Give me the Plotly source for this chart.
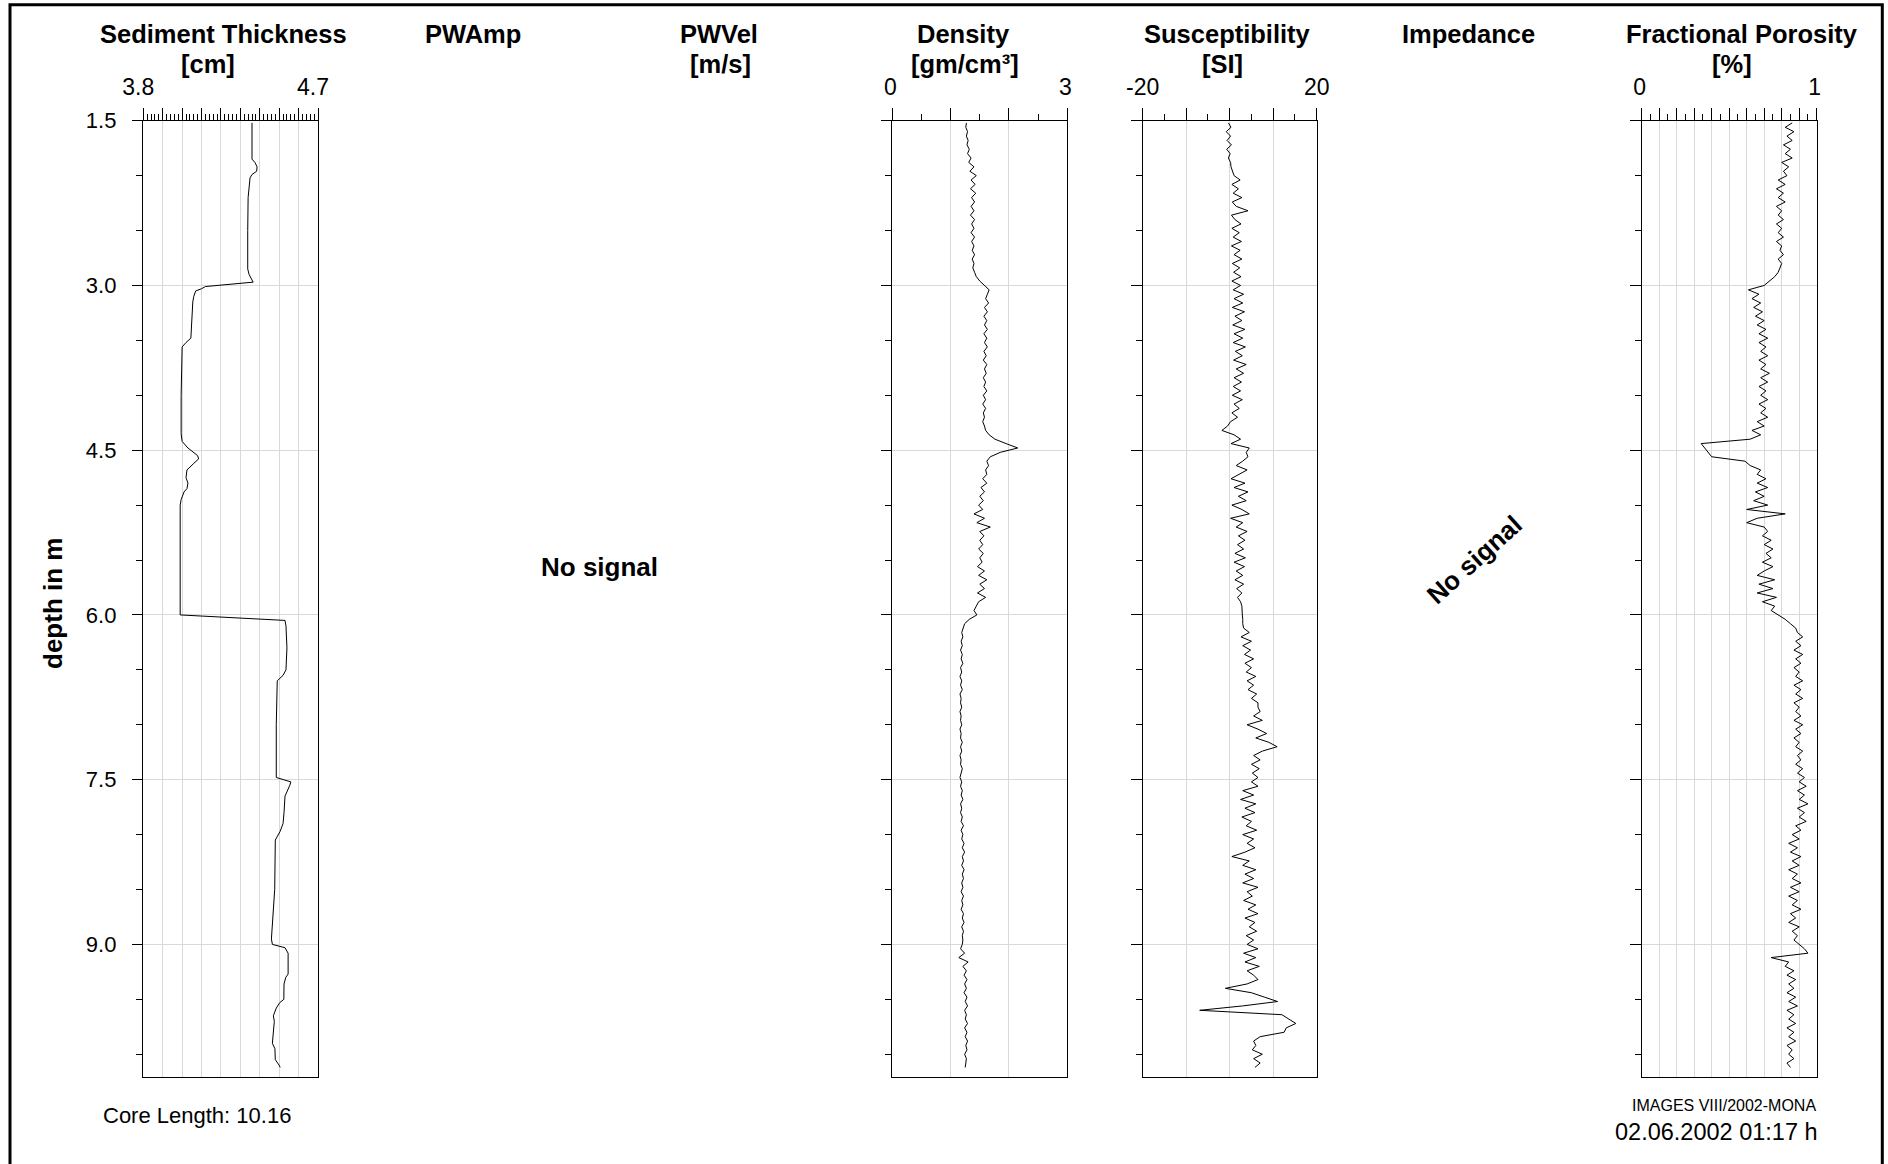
import numpy as np
import plotly.graph_objects as go

W, H = 1888, 1164
FONT = "Liberation Sans, Arial, sans-serif"

# ---------------- data ----------------
# Sediment thickness [cm] vs depth [m] (piecewise read from the log)
sed_depth = [1.52, 1.85, 1.88, 1.92, 1.96, 1.99, 2.02, 2.20, 2.50, 2.85, 2.90, 2.97,
             3.01, 3.03, 3.05, 3.10, 3.15, 3.30, 3.48, 3.52, 3.56, 4.00, 4.35, 4.42,
             4.48, 4.55, 4.58, 4.62, 4.68, 4.75, 4.80, 4.85, 4.88, 4.95, 5.00, 6.00,
             6.05, 6.10, 6.30, 6.50, 6.55, 6.60, 7.00, 7.48, 7.52, 7.55, 7.65, 7.80,
             7.90, 7.97, 8.05, 8.50, 8.85, 8.95, 9.00, 9.03, 9.08, 9.27, 9.30, 9.36,
             9.50, 9.53, 9.58, 9.65, 9.70, 9.80, 9.90, 9.95, 10.05, 10.10, 10.12]
sed_val = [4.360, 4.360, 4.375, 4.386, 4.384, 4.360, 4.350, 4.340, 4.338, 4.338, 4.345, 4.366,
           4.120, 4.100, 4.070, 4.060, 4.055, 4.050, 4.045, 4.020, 4.000, 3.995, 3.995, 4.000,
           4.030, 4.080, 4.085, 4.060, 4.025, 4.020, 4.030, 4.025, 4.010, 3.995, 3.990, 3.990,
           4.530, 4.535, 4.540, 4.535, 4.520, 4.490, 4.485, 4.485, 4.560, 4.555, 4.530, 4.525,
           4.520, 4.505, 4.480, 4.477, 4.465, 4.460, 4.465, 4.530, 4.546, 4.546, 4.534, 4.525,
           4.524, 4.503, 4.485, 4.470, 4.475, 4.470, 4.465, 4.478, 4.480, 4.500, 4.505]

# Regularly sampled logs: first sample depth and sampling step [m]
start_depth = 1.52
step_depth = 0.04

# Density [gm/cm3]
density = [
    1.27, 1.26, 1.29, 1.27, 1.30, 1.28, 1.32, 1.29, 1.35, 1.31,
    1.40, 1.33, 1.44, 1.35, 1.42, 1.34, 1.43, 1.36, 1.41, 1.35,
    1.40, 1.34, 1.41, 1.36, 1.40, 1.35, 1.41, 1.36, 1.40, 1.37,
    1.41, 1.37, 1.40, 1.38, 1.41, 1.44, 1.50,
    1.58, 1.66, 1.63, 1.60, 1.65, 1.58, 1.63, 1.57, 1.62, 1.58,
    1.63, 1.57, 1.62, 1.58, 1.63, 1.57, 1.61, 1.56, 1.62, 1.58,
    1.61, 1.56, 1.60, 1.57, 1.62, 1.56, 1.60, 1.55, 1.60, 1.56,
    1.58, 1.55, 1.58, 1.60, 1.66, 1.76, 1.95, 2.15, 1.85, 1.68,
    1.62, 1.65, 1.60, 1.62, 1.55, 1.62, 1.52, 1.58, 1.50, 1.56,
    1.48, 1.55, 1.40, 1.58, 1.45, 1.68, 1.50, 1.57, 1.50, 1.55,
    1.48, 1.56, 1.50, 1.54, 1.46, 1.58, 1.48, 1.62, 1.50, 1.58,
    1.46, 1.60, 1.48, 1.44, 1.40, 1.45, 1.32, 1.24, 1.21,
    1.19, 1.21, 1.18, 1.20, 1.17, 1.20, 1.18, 1.21, 1.17, 1.19,
    1.16, 1.19, 1.17, 1.20, 1.16, 1.18, 1.17, 1.19, 1.16, 1.18,
    1.17, 1.19, 1.16, 1.18, 1.17, 1.20, 1.17, 1.19, 1.16, 1.18,
    1.17, 1.20, 1.18, 1.16, 1.19, 1.17, 1.20, 1.18, 1.21, 1.17,
    1.19, 1.17, 1.20, 1.18, 1.22, 1.18, 1.21, 1.19, 1.23, 1.20,
    1.24, 1.20, 1.22, 1.19, 1.23, 1.20, 1.22, 1.19, 1.21, 1.18,
    1.22, 1.19, 1.21, 1.18, 1.22, 1.20, 1.23, 1.19, 1.22, 1.20,
    1.21,
    1.20, 1.17, 1.24, 1.14, 1.30, 1.21, 1.27, 1.23, 1.28, 1.24,
    1.27, 1.23, 1.28, 1.25, 1.29, 1.24, 1.27, 1.25, 1.29, 1.24,
    1.28, 1.25, 1.29, 1.26, 1.28, 1.24, 1.27, 1.26, 1.25]

# Susceptibility [SI]
susceptibility = [
    -0.3, 0.3, -0.8, 0.2, -0.6, 0.4, -0.7, 0.1, -0.3, 0.2,
    0.3, 0.6, 1.0, 2.4, 0.5, 2.0, 0.8, 2.8, 0.6, 1.5,
    4.2, 0.4, 1.2, 2.6, 0.5, 2.2, 0.8, 2.7, 0.4, 2.4,
    1.0, 2.8, 0.6, 2.3, 0.9, 2.6, 0.5,
    2.5, 0.8, 3.2, 1.0, 3.0, 0.6, 3.4, 1.2, 2.8, 0.7,
    3.5, 1.0, 3.0, 0.8, 3.6, 1.3, 2.9, 0.9, 3.8, 1.5,
    3.2, 1.0, 2.7, 0.8, 2.5, 0.6, 2.9, 1.0, 2.2, 0.5,
    1.8, 0.2, -0.5, -1.8, 1.0, 2.5, 0.3, 4.5, 3.8, 4.2,
    3.0, 1.5, 4.0, 2.0, 0.3, 3.5, 1.0, 4.2, 2.0, 3.8,
    0.5, 2.8, 4.5, 0.2, 3.0, 1.5, 4.0, 2.0, 3.5, 1.8,
    3.2, 1.2, 3.6, 1.0, 3.4, 1.5, 3.0, 1.2, 3.2, 1.6,
    2.8, 1.8, 2.5, 2.8, 2.8, 2.9, 3.0, 3.0, 3.2,
    4.5, 2.6, 5.0, 3.0, 4.8, 3.4, 5.5, 3.5, 5.0, 3.8,
    6.0, 4.0, 5.5, 4.2, 6.2, 5.0, 6.5, 6.5, 7.0, 5.5,
    7.5, 4.0, 6.5, 8.5, 6.0, 9.0, 10.9, 7.5, 5.5, 7.0,
    5.0, 6.8, 5.2, 6.5, 5.0, 6.5, 3.0, 5.5, 2.5, 6.0,
    3.5, 5.8, 2.8, 5.0, 3.8, 6.2, 3.0, 5.5, 4.0, 5.8,
    3.5, 0.5, 4.5, 3.0, 6.0, 3.5, 5.5, 3.0, 6.5, 4.0,
    5.2, 3.2, 6.0, 4.2, 6.5, 3.5, 5.8, 4.5, 6.2, 3.8,
    5.5,
    4.0, 6.5, 3.2, 6.0, 3.5, 6.8, 4.0, 5.5, 6.5, 4.0,
    -1.0, 5.0, 8.0, 11.0, 3.0, -6.9, 12.0, 13.5, 15.2, 13.0,
    12.5, 7.0, 5.5, 6.0, 5.2, 7.5, 5.5, 7.0, 5.8]

# Fractional porosity
porosity = [
    0.86, 0.82, 0.87, 0.83, 0.86, 0.81, 0.85, 0.82, 0.86, 0.80,
    0.84, 0.81, 0.83, 0.78, 0.82, 0.77, 0.81, 0.78, 0.82, 0.77,
    0.80, 0.78, 0.81, 0.77, 0.80, 0.78, 0.81, 0.77, 0.80, 0.79,
    0.81, 0.78, 0.80, 0.79, 0.78, 0.76, 0.73,
    0.70, 0.61, 0.67, 0.63, 0.68, 0.64, 0.69, 0.65, 0.70, 0.66,
    0.71, 0.67, 0.72, 0.67, 0.71, 0.68, 0.72, 0.67, 0.71, 0.68,
    0.73, 0.68, 0.72, 0.67, 0.71, 0.68, 0.72, 0.67, 0.71, 0.68,
    0.72, 0.66, 0.70, 0.63, 0.68, 0.62, 0.34, 0.36, 0.38, 0.40,
    0.59, 0.62, 0.68, 0.66, 0.71, 0.66, 0.72, 0.65, 0.70, 0.64,
    0.72, 0.60, 0.82, 0.66, 0.60, 0.70, 0.72, 0.69, 0.74, 0.70,
    0.75, 0.71, 0.74, 0.69, 0.75, 0.70, 0.66, 0.76, 0.67, 0.75,
    0.66, 0.77, 0.69, 0.76, 0.74, 0.78, 0.82, 0.85, 0.88,
    0.89, 0.92, 0.88, 0.91, 0.87, 0.92, 0.88, 0.91, 0.87, 0.90,
    0.88, 0.92, 0.87, 0.91, 0.88, 0.92, 0.87, 0.90, 0.88, 0.91,
    0.87, 0.92, 0.88, 0.91, 0.87, 0.90, 0.88, 0.92, 0.89, 0.91,
    0.88, 0.92, 0.89, 0.93, 0.90, 0.94, 0.89, 0.93, 0.90, 0.95,
    0.89, 0.93, 0.90, 0.94, 0.88, 0.91, 0.86, 0.90, 0.84, 0.89,
    0.85, 0.91, 0.86, 0.90, 0.84, 0.89, 0.86, 0.91, 0.85, 0.90,
    0.84, 0.89, 0.86, 0.91, 0.85, 0.88, 0.84, 0.90, 0.86, 0.89,
    0.87,
    0.90, 0.93, 0.95, 0.74, 0.84, 0.82, 0.87, 0.83, 0.88, 0.84,
    0.87, 0.83, 0.88, 0.84, 0.89, 0.83, 0.87, 0.84, 0.88, 0.83,
    0.87, 0.84, 0.88, 0.83, 0.86, 0.84, 0.87, 0.83, 0.85]

# Axis ticks
depth_range = [10.21, 1.5]
depth_major = [1.5, 3.0, 4.5, 6.0, 7.5, 9.0]
depth_labels = ["1.5", "3.0", "4.5", "6.0", "7.5", "9.0"]
depth_minor = [2.0, 2.5, 3.5, 4.0, 5.0, 5.5, 6.5, 7.0, 8.0, 8.5, 9.5, 10.0]

sed_range = [3.8, 4.7]
sed_major = [3.8, 3.9, 4.0, 4.1, 4.2, 4.3, 4.4, 4.5, 4.6, 4.7]
sed_labels = ["3.8", "", "", "", "", "", "", "", "", "4.7"]
sed_minor = [round(3.8 + 0.02 * k, 2) for k in range(46) if k % 5]

dens_range = [0, 3]
dens_major = [0, 1, 2, 3]
dens_labels = ["0", "", "", "3"]
dens_minor = [0.5, 1.5, 2.5]

susc_range = [-20, 20]
susc_major = [-20, -10, 0, 10, 20]
susc_labels = ["-20", "", "", "", "20"]
susc_minor = [-15, -5, 5, 15]

poro_range = [0, 1]
poro_major = [0, 0.1, 0.2, 0.3, 0.4, 0.5, 0.6, 0.7, 0.8, 0.9, 1.0]
poro_labels = ["0", "", "", "", "", "", "", "", "", "", "1"]
poro_minor = [0.05, 0.15, 0.25, 0.35, 0.45, 0.55, 0.65, 0.75, 0.85, 0.95]


def sample_depths(values):
    return np.round(start_depth + step_depth * np.arange(len(values)), 2)


# ---------------- layout helpers ----------------
def px(x):
    return x / W


def py(y):
    return 1 - y / H


PLOT_TOP, PLOT_BOT = 120.7, 1077.3
GRID = "#d9d9d9"

panels = [
    dict(x0=143.3, x1=318.0, rng=sed_range, major=sed_major, labels=sed_labels,
         minor=sed_minor, x=sed_val, y=sed_depth, shift=-5),
    dict(x0=892.3, x1=1067.3, rng=dens_range, major=dens_major, labels=dens_labels,
         minor=dens_minor, x=density, y=sample_depths(density), shift=-2),
    dict(x0=1142.7, x1=1316.7, rng=susc_range, major=susc_major, labels=susc_labels,
         minor=susc_minor, x=susceptibility, y=sample_depths(susceptibility), shift=0),
    dict(x0=1641.7, x1=1816.7, rng=poro_range, major=poro_major, labels=poro_labels,
         minor=poro_minor, x=porosity, y=sample_depths(porosity), shift=-2),
]

fig = go.Figure()
layout = dict(
    width=W, height=H, autosize=False,
    margin=dict(l=0, r=0, t=0, b=0, pad=0, autoexpand=False),
    paper_bgcolor="white", plot_bgcolor="white",
    font=dict(family=FONT, color="black", size=21),
    showlegend=False,
)

for k, p in enumerate(panels):
    n = "" if k == 0 else str(k + 1)
    fig.add_trace(go.Scatter(x=p["x"], y=p["y"], mode="lines",
                             line=dict(color="black", width=1),
                             xaxis="x" + n, yaxis="y" + n, hoverinfo="skip"))
    layout["xaxis" + n] = dict(
        domain=[px(p["x0"]), px(p["x1"])], anchor="y" + n, side="top",
        range=p["rng"], tickmode="array", tickvals=p["major"], ticktext=p["labels"],
        ticks="outside", ticklen=11.5, tickwidth=1, tickcolor="black",
        showline=True, linecolor="black", linewidth=1, mirror=True,
        showgrid=True, gridcolor=GRID, gridwidth=1, zeroline=False,
        tickfont=dict(size=23, family=FONT, color="black"),
        ticklabelstandoff=4, ticklabelshift=p["shift"], automargin=False,
        minor=dict(tickmode="array", tickvals=p["minor"], ticks="outside",
                   ticklen=5.5, tickwidth=1, tickcolor="black", showgrid=False),
    )
    layout["yaxis" + n] = dict(
        domain=[py(PLOT_BOT), py(PLOT_TOP)], anchor="x" + n,
        range=depth_range, tickmode="array", tickvals=depth_major, ticktext=depth_labels,
        ticks="outside", ticklen=10.5, tickwidth=1, tickcolor="black",
        showline=True, linecolor="black", linewidth=1, mirror=True,
        showgrid=True, gridcolor=GRID, gridwidth=1, zeroline=False,
        showticklabels=(k == 0), automargin=False,
        tickfont=dict(size=22, family=FONT, color="black"),
        ticklabelstandoff=11,
        minor=dict(tickmode="array", tickvals=depth_minor, ticks="outside",
                   ticklen=6, tickwidth=1, tickcolor="black", showgrid=False),
    )

annotations = []


def text(t, x, y, size, bold=False, xanchor="center", angle=0, pad=1):
    annotations.append(dict(
        text=("<b>%s</b>" % t) if bold else t, x=px(x), y=py(y),
        xref="paper", yref="paper", xanchor=xanchor, yanchor="middle",
        showarrow=False, textangle=angle, borderpad=pad,
        font=dict(family=FONT, size=size, color="black")))


TS = 25
# column titles (line 1 / line 2)
for t, x in [("Sediment Thickness", 223), ("PWAmp", 473.3), ("PWVel", 719.3),
             ("Density", 963.3), ("Susceptibility", 1227), ("Impedance", 1468.3),
             ("Fractional Porosity", 1741.7)]:
    text(t, x, 34.0, 25.5, bold=True, pad=0)
for t, x in [("[cm]", 208), ("[m/s]", 720), ("[gm/cm³]", 965), ("[SI]", 1222),
             ("[%]", 1731.7)]:
    text(t, x, 63.5, 25.5, bold=True, pad=0)

text("depth in m", 53, 604, 26, bold=True, angle=-90)
text("No signal", 599, 567, 26, bold=True)
text("No signal", 1474, 560, 26, bold=True, angle=-42)
text("Core Length: 10.16", 101, 1115.7, 22, xanchor="left")
text("IMAGES VIII/2002-MONA", 1818, 1105.8, 16, xanchor="right")
text("02.06.2002 01:17 h", 1820, 1132, 23.5, xanchor="right")

layout["annotations"] = annotations
layout["shapes"] = [dict(type="rect", xref="paper", yref="paper",
                         x0=px(10), x1=px(1882.3), y0=py(1180), y1=py(4.7),
                         line=dict(color="black", width=3), fillcolor="rgba(0,0,0,0)")]

fig.update_layout(**layout)
fig.write_html("out.html", include_plotlyjs=True,
               config={"displayModeBar": False},
               post_script="document.body.style.margin='0';document.body.style.overflow='hidden';")
